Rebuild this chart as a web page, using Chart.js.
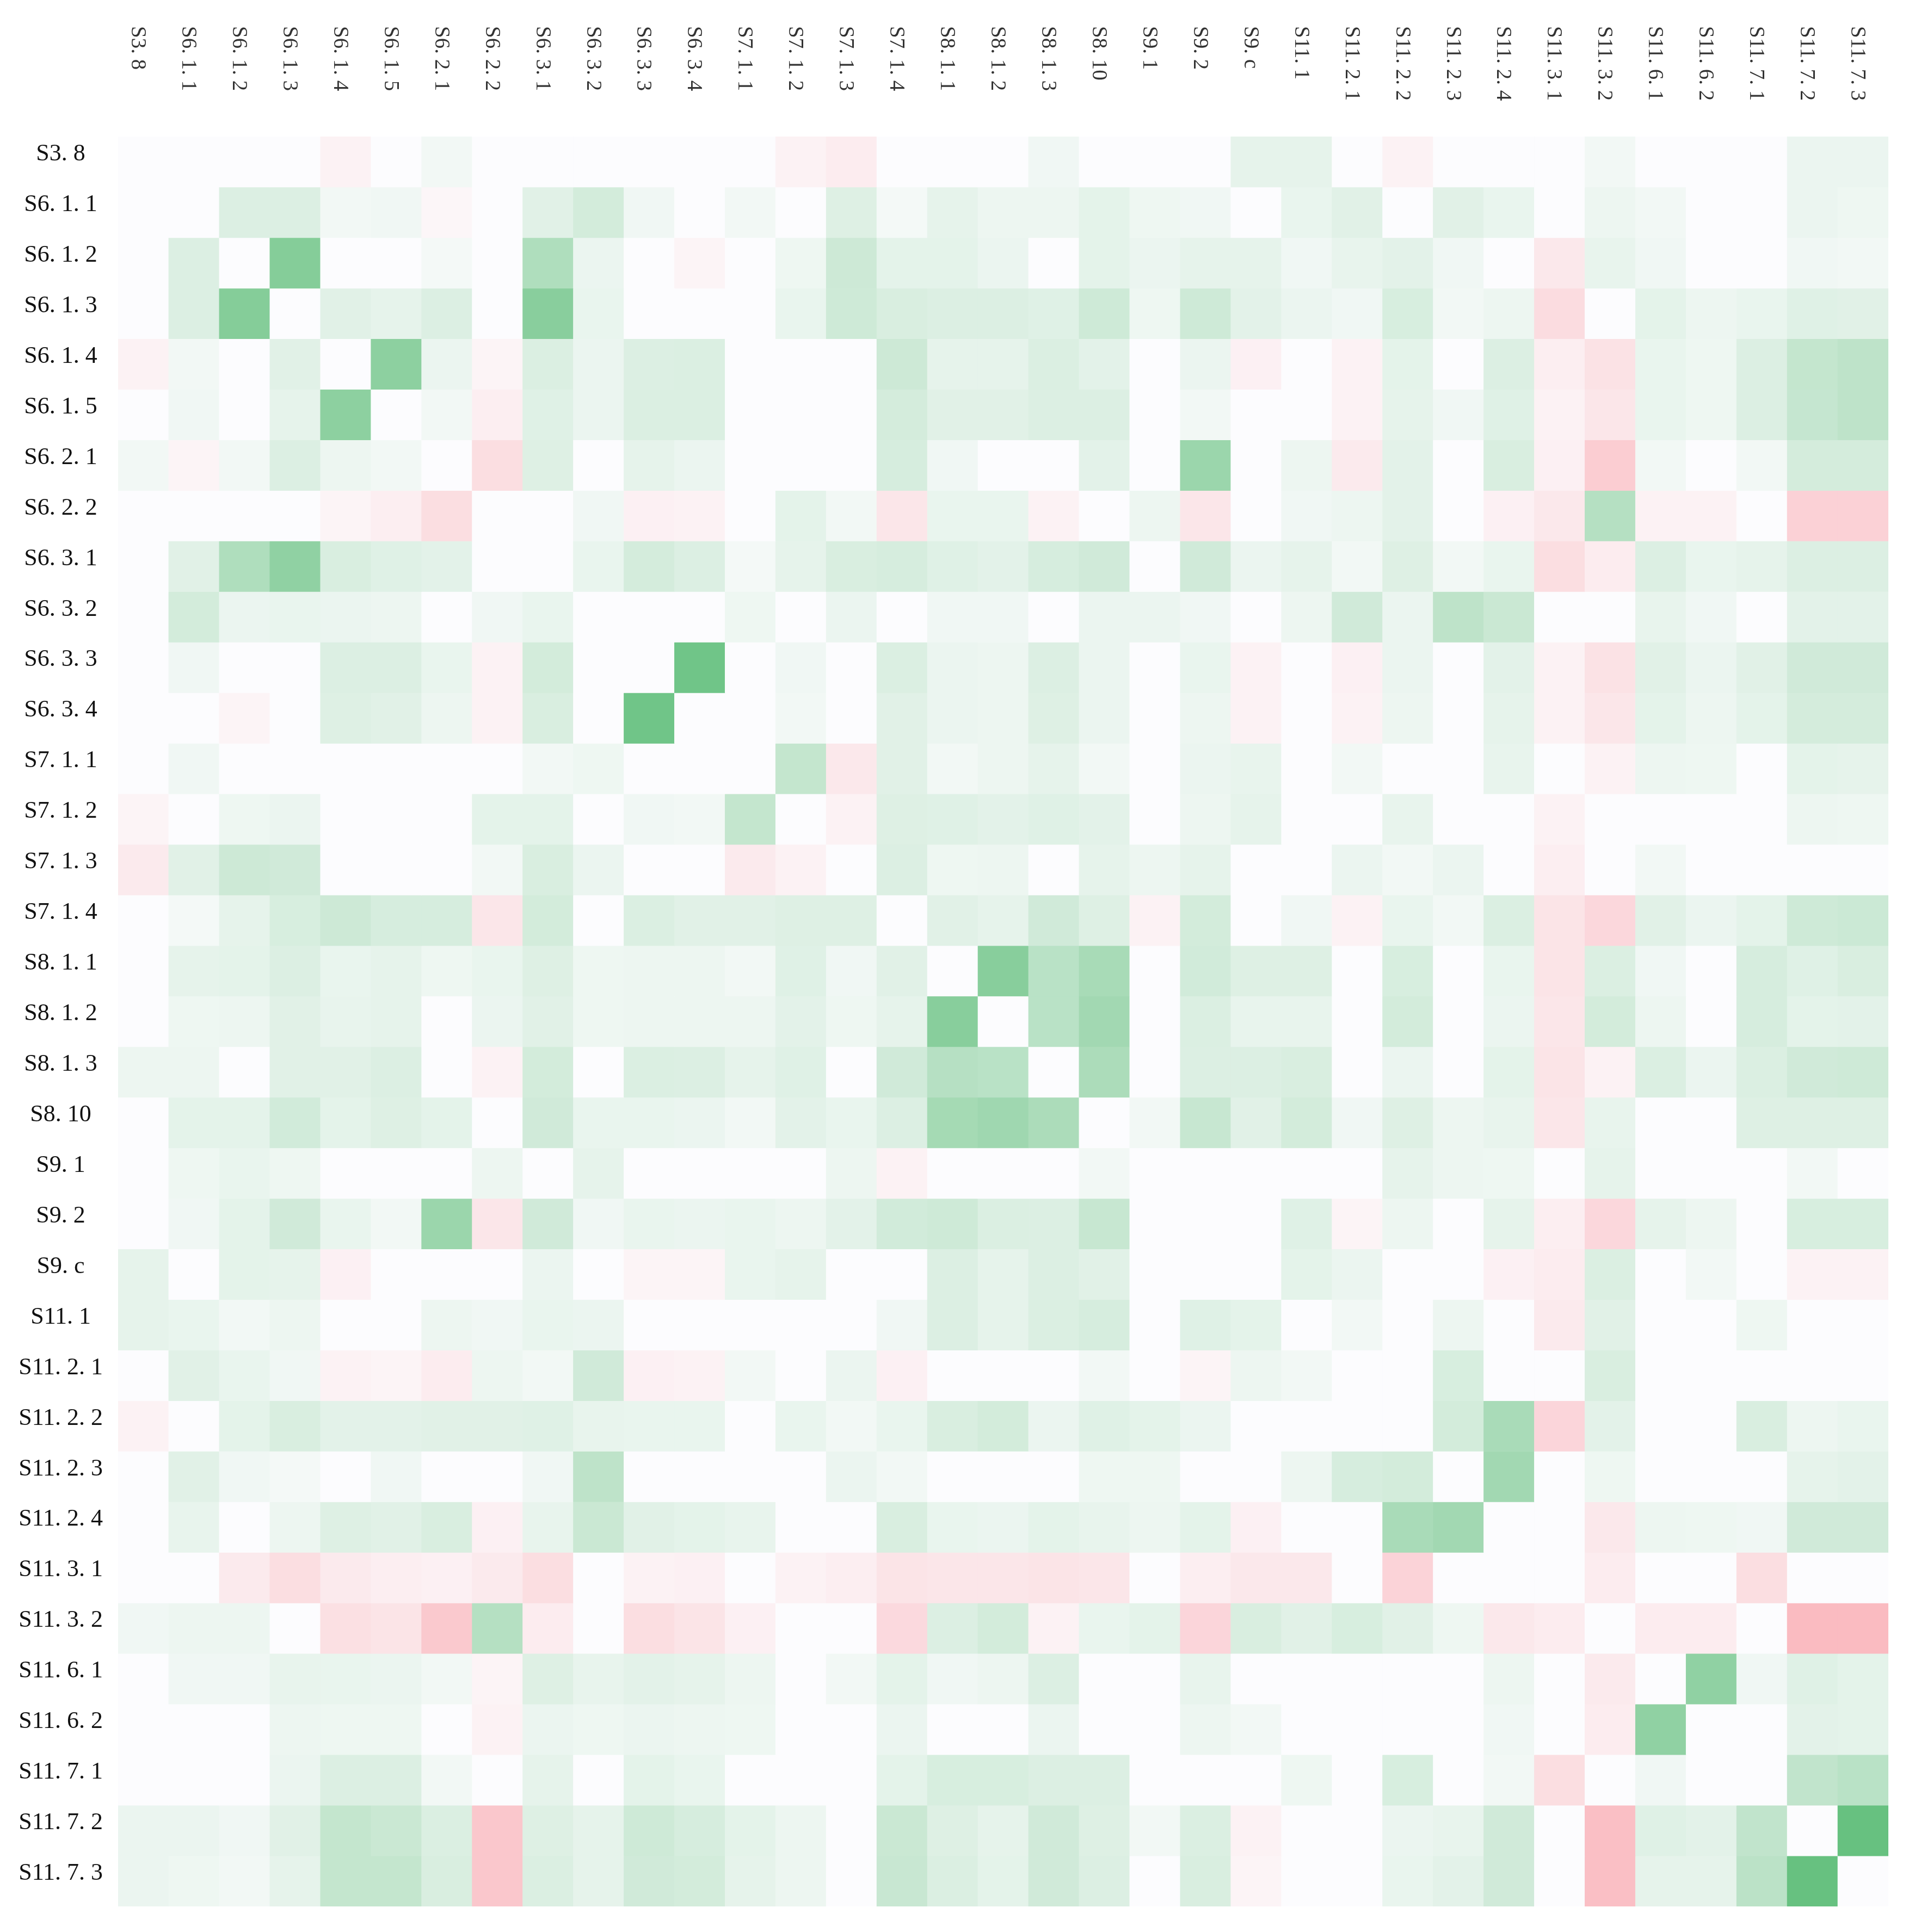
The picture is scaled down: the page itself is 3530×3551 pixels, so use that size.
<!DOCTYPE html>
<html>
<head>
<meta charset="utf-8">
<title>Correlation heatmap</title>
<style>
  html, body { margin: 0; padding: 0; background: #fff; }
  canvas { display: block; }
</style>
</head>
<body>
<canvas id="heat" width="3530" height="3551"></canvas>
<script src="https://cdn.jsdelivr.net/npm/chart.js@4"></script>
<script>
const categories = ['S3. 8', 'S6. 1. 1', 'S6. 1. 2', 'S6. 1. 3', 'S6. 1. 4', 'S6. 1. 5', 'S6. 2. 1', 'S6. 2. 2', 'S6. 3. 1',
  'S6. 3. 2', 'S6. 3. 3', 'S6. 3. 4', 'S7. 1. 1', 'S7. 1. 2', 'S7. 1. 3', 'S7. 1. 4', 'S8. 1. 1', 'S8. 1. 2', 'S8. 1. 3',
  'S8. 10', 'S9. 1', 'S9. 2', 'S9. c', 'S11. 1', 'S11. 2. 1', 'S11. 2. 2', 'S11. 2. 3', 'S11. 2. 4', 'S11. 3. 1', 'S11. 3. 2',
  'S11. 6. 1', 'S11. 6. 2', 'S11. 7. 1', 'S11. 7. 2', 'S11. 7. 3'];

// one row per category (colour strength, green +, pink -)
const values = [
  [0,0,0,0,-5,0,5,0,0,0,0,0,0,-5,-8,0,0,0,6,0,0,0,12,12,0,-5,0,0,0,5,0,0,0,9,9],
  [0,0,18,18,5,6,-3,0,15,24,6,0,5,0,17,4,12,8,8,13,7,6,0,10,15,0,15,10,0,8,5,0,0,9,7],
  [0,18,0,78,0,0,4,0,48,9,0,-4,0,7,28,13,13,9,0,13,9,12,12,6,11,14,6,0,-10,11,6,0,0,6,5],
  [0,18,78,0,15,12,18,0,75,10,0,0,0,10,27,20,18,18,16,27,7,27,14,9,6,21,5,8,-16,0,13,8,10,16,15],
  [-5,5,0,15,0,72,9,-4,19,9,18,19,0,0,0,28,12,12,19,14,0,9,-6,0,-5,13,0,18,-7,-13,10,7,18,34,38],
  [0,6,0,12,72,0,5,-7,16,9,19,19,0,0,0,23,15,15,18,18,0,5,0,0,-5,12,6,16,-5,-11,10,7,18,33,38],
  [5,-4,5,18,8,5,0,-15,17,0,12,9,0,0,0,22,6,0,0,14,0,62,0,8,-9,14,0,20,-6,-23,5,0,5,23,23],
  [0,0,0,0,-4,-7,-15,0,0,6,-6,-5,0,13,5,-11,10,10,-5,0,8,-11,0,6,8,14,0,-6,-10,44,-5,-5,0,-21,-21],
  [0,15,48,70,20,16,14,0,0,10,23,18,4,12,20,22,16,14,22,26,0,26,9,12,5,17,5,10,-15,-8,18,10,12,18,18],
  [0,24,9,10,9,8,0,6,10,0,0,0,7,0,9,0,6,6,0,9,9,6,0,8,26,9,38,30,0,0,11,6,0,14,14],
  [0,6,0,0,18,18,10,-5,24,0,0,93,0,6,0,19,9,8,18,9,0,10,-5,0,-6,9,0,14,-5,-13,15,9,15,26,26],
  [0,0,-4,0,17,15,8,-5,20,0,93,0,0,5,0,15,9,8,17,9,0,8,-5,0,-5,8,0,12,-5,-11,13,8,13,23,23],
  [0,6,0,0,0,0,0,0,5,7,0,0,0,34,-10,15,5,8,12,5,0,9,11,0,5,0,0,11,0,-5,8,7,0,13,12],
  [-4,0,7,9,0,0,0,13,13,0,6,5,34,0,-5,17,16,14,16,14,0,8,12,0,0,11,0,0,-5,0,0,0,0,8,7],
  [-9,15,28,26,0,0,0,5,20,9,0,0,-9,-5,0,18,7,8,0,12,8,12,0,0,9,5,9,0,-7,0,5,0,0,0,0],
  [0,4,12,21,28,22,22,-11,24,0,19,15,15,17,17,0,15,12,26,17,-5,24,0,6,-5,10,5,19,-12,-18,15,9,13,27,29],
  [0,12,13,18,10,12,7,10,17,7,8,8,5,16,6,15,0,76,41,53,0,25,17,17,0,21,0,10,-12,19,6,0,22,16,20],
  [0,7,8,15,11,12,0,9,15,7,8,8,8,14,7,12,76,0,41,57,0,19,11,11,0,24,0,9,-11,24,8,0,22,13,14],
  [8,8,0,15,15,18,0,-5,24,0,19,18,12,16,0,26,43,41,0,50,0,18,18,20,0,9,0,13,-12,-5,19,9,19,26,27],
  [0,13,13,25,13,17,13,0,26,10,10,9,5,14,10,18,55,59,50,0,5,32,15,24,6,17,8,11,-11,11,0,0,17,17,17],
  [0,7,10,7,0,0,0,8,0,12,0,0,0,0,8,-5,0,0,0,5,0,0,0,0,0,12,8,7,0,12,0,0,0,5,0],
  [0,6,13,26,10,5,62,-11,26,6,10,9,10,8,14,25,27,19,18,32,0,0,0,16,-4,8,0,12,-7,-18,12,8,0,21,21],
  [12,0,13,12,-6,0,0,0,9,0,-4,-4,10,12,0,0,18,12,18,15,0,0,0,13,9,0,0,-6,-8,19,0,5,0,-5,-5],
  [12,10,5,8,0,0,8,6,10,9,0,0,0,0,0,6,18,12,19,22,0,16,13,0,5,0,8,0,-9,15,0,0,7,0,0],
  [0,15,10,6,-5,-4,-8,8,5,26,-6,-5,5,0,9,-6,0,0,0,5,0,-4,8,5,0,0,21,0,0,20,0,0,0,0,0],
  [-5,0,13,20,14,14,15,15,16,11,10,10,0,10,5,10,20,24,9,16,13,9,0,0,0,0,24,52,-19,14,0,0,20,8,10],
  [0,15,6,4,0,6,0,0,6,38,0,0,0,0,9,5,0,0,0,7,7,0,0,8,22,24,0,57,0,7,0,0,0,12,14],
  [0,11,0,8,17,15,20,-6,11,30,15,13,11,0,0,20,10,9,13,11,8,13,-6,0,0,52,57,0,0,-10,8,7,6,26,26],
  [0,0,-9,-15,-9,-7,-6,-9,-15,0,-5,-6,0,-5,-7,-12,-11,-11,-12,-11,0,-7,-10,-10,0,-20,0,0,0,-8,0,0,-15,0,0],
  [6,8,8,0,-14,-12,-25,44,-8,0,-15,-12,-6,0,0,-17,18,24,-5,10,13,-19,20,15,21,15,7,-10,-8,0,-8,-8,0,-32,-32],
  [0,6,6,11,10,9,5,-4,17,11,14,12,8,0,5,13,6,8,18,0,0,11,0,0,0,0,0,8,0,-9,0,70,6,16,13],
  [0,0,0,8,7,7,0,-5,9,7,9,8,7,0,0,9,0,0,9,0,0,8,5,0,0,0,0,6,0,-8,70,0,0,14,13],
  [0,0,0,9,18,18,5,0,12,0,13,10,0,0,0,13,21,21,18,18,0,0,0,7,0,21,0,5,-15,0,6,0,0,36,41],
  [9,9,6,15,34,30,19,-26,17,12,27,22,13,8,0,30,17,12,26,17,5,19,-5,0,0,9,11,26,0,-30,16,14,36,0,100],
  [9,7,5,12,34,34,20,-26,19,12,26,24,12,8,0,31,19,13,26,18,0,20,-4,0,0,10,14,26,0,-30,12,12,40,100,0]
];

// colour ends of the scale
const baseRGB = [252, 252, 254];
const greenRGB = [103, 193, 128];
const pinkRGB = [250, 187, 193];

function cellColor(v) {
  const end = v >= 0 ? greenRGB : pinkRGB;
  const t = v >= 0 ? Math.pow(v / 100, 0.9) : -v / 32;
  const c = baseRGB.map((b, i) => Math.round(b + (end[i] - b) * t));
  return `rgb(${c[0]},${c[1]},${c[2]})`;
}

// every row is one stack layer, each cell is one unit tall
const datasets = values.map((row, r) => ({
  label: categories[r],
  data: row.map(() => 1),
  backgroundColor: row.map(cellColor),
  borderWidth: 0,
  yAxisID: 'yBars',
  categoryPercentage: 1,
  barPercentage: 1
}));

new Chart(document.getElementById('heat'), {
  type: 'bar',
  data: { labels: categories, datasets },
  options: {
    responsive: false,
    animation: false,
    events: [],
    layout: { padding: { top: 0, left: 0, right: 60, bottom: 47 } },
    plugins: { legend: { display: false }, tooltip: { enabled: false } },
    scales: {
      x: {
        position: 'top',
        stacked: true,
        offset: true,
        grid: { display: false, drawTicks: false },
        border: { display: false },
        ticks: {
          autoSkip: false,
          minRotation: -90,
          maxRotation: -90,
          padding: 203,
          labelOffset: -58,
          color: '#333',
          font: { family: '"Liberation Serif"', size: 39 }
        },
        afterFit: (scale) => {
          // tick padding would otherwise eat into the plot width
          scale.height = 251;
          scale.paddingLeft = 0;
          scale.paddingRight = 0;
        }
      },
      y: {
        type: 'category',
        labels: categories,
        position: 'left',
        offset: true,
        grid: { display: false, drawTicks: false },
        border: { display: false },
        ticks: {
          autoSkip: false,
          crossAlign: 'center',
          padding: 28,
          labelOffset: -14,
          color: '#111',
          font: { family: '"Liberation Serif"', size: 44 }
        },
        afterFit: (scale) => {
          scale.width = 217;
          scale.paddingTop = 0;
          scale.paddingBottom = 0;
        }
      },
      yBars: {
        axis: 'y',
        display: false,
        stacked: true,
        min: 0,
        max: categories.length,
        reverse: true
      }
    }
  }
});
</script>
</body>
</html>
